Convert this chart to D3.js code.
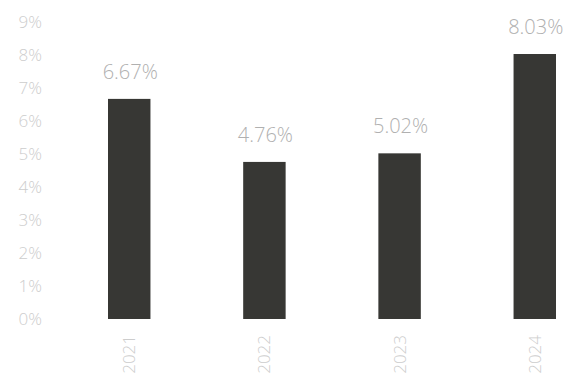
<!DOCTYPE html>
<html><head><meta charset="utf-8">
<script src="https://cdn.jsdelivr.net/npm/d3@7"></script>
<style>html,body{margin:0;padding:0;background:#fff;}</style>
</head><body>
<svg id="c" width="569" height="381"></svg>
<script>
const categories = ["2021", "2022", "2023", "2024"];
const values = [6.67, 4.76, 5.02, 8.03];
const valueLabels = ["6.67%", "4.76%", "5.02%", "8.03%"];
const yTicks = [0, 1, 2, 3, 4, 5, 6, 7, 8, 9];

const svg = d3.select("#c");
const font = "'Open Sans', 'Noto Sans', sans-serif";

const x = d3.scaleBand().domain(categories).range([108, 556]).paddingInner(0.686).paddingOuter(0);
const y = d3.scaleLinear().domain([0, 9]).range([319, 22]);

const yAxis = d3.axisLeft(y).tickValues(yTicks).tickFormat(d => d + "%").tickSize(0).tickPadding(0);
const gy = svg.append("g").attr("transform", "translate(42,0)").call(yAxis);
gy.select(".domain").remove();
gy.selectAll("text").attr("font-family", font).attr("font-size", 17).attr("fill", "#cdcdcd").attr("font-weight", 300);

svg.append("g").selectAll("rect").data(values).join("rect")
  .attr("x", (d, i) => x(categories[i]))
  .attr("width", x.bandwidth())
  .attr("y", d => y(d))
  .attr("height", d => y(0) - y(d))
  .attr("fill", "#373734");

svg.append("g").selectAll("text").data(values).join("text")
  .attr("x", (d, i) => x(categories[i]) + x.bandwidth() / 2 + 1)
  .attr("y", d => y(d) - 20)
  .attr("text-anchor", "middle")
  .attr("font-family", font).attr("font-size", 20).attr("font-weight", 300)
  .attr("fill", "#b0b0b0")
  .text((d, i) => valueLabels[i]);

const xAxis = d3.axisBottom(x).tickSize(0).tickPadding(0);
const gx = svg.append("g").attr("transform", "translate(0,335)").call(xAxis);
gx.select(".domain").remove();
gx.selectAll("text")
  .attr("transform", "rotate(-90)")
  .attr("x", 0).attr("y", 0).attr("dy", "0.35em").attr("dx", 0)
  .attr("text-anchor", "end")
  .attr("font-family", font).attr("font-size", 17).attr("font-weight", 300)
  .attr("fill", "#cdcdcd");
</script>
</body></html>
